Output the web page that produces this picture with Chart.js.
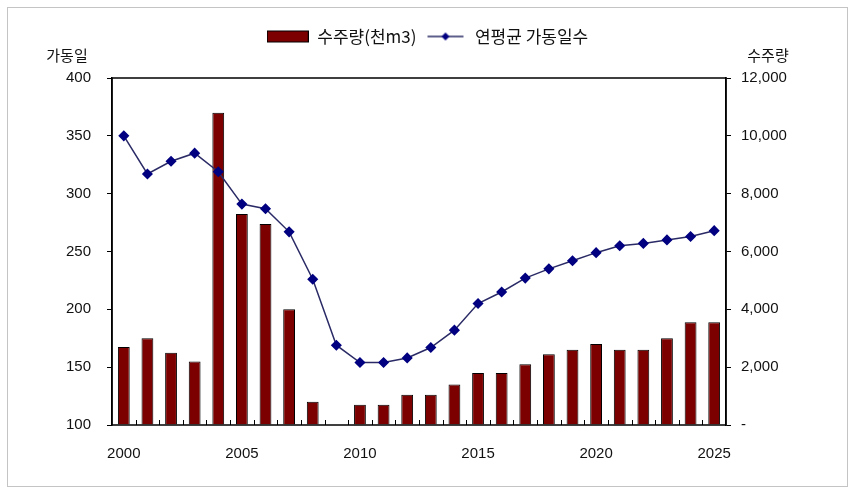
<!DOCTYPE html>
<html>
<head>
<meta charset="utf-8">
<script src="https://cdn.jsdelivr.net/npm/chart.js@4.4.1/dist/chart.umd.min.js"></script>
<style>
  html, body { margin: 0; padding: 0; background: #fff; }
  #wrap { width: 855px; height: 497px; position: relative; }
</style>
</head>
<body>
<div id="wrap"><canvas id="combo" width="855" height="497"></canvas></div>
<script>
const years = ['2000','2001','2002','2003','2004','2005','2006','2007','2008','2009','2010','2011','2012',
  '2013','2014','2015','2016','2017','2018','2019','2020','2021','2022','2023','2024','2025'];
// 수주량 (천m3), right axis
const orders = [2700, 3000, 2500, 2200, 10800, 7300, 6950, 4000, 800, 0, 700, 700, 1050,
  1050, 1400, 1800, 1800, 2100, 2450, 2600, 2800, 2600, 2600, 3000, 3550, 3550];
// 연평균 가동일수, left axis
const days = [350, 317, 328, 335, 319, 291, 287, 267, 226, 169, 154, 154, 158,
  167, 182, 205, 215, 227, 235, 242, 249, 255, 257, 260, 263, 268];
const leftTicks = [100, 150, 200, 250, 300, 350, 400];
const rightTicks = [0, 2000, 4000, 6000, 8000, 10000, 12000];

const FONT = "Arial, 'Liberation Sans', 'Noto Sans CJK KR', sans-serif";
const LEG_FONT = "'Noto Sans CJK KR', Arial, sans-serif";
const BAR = '#7d0000';
const NAVY = '#000080';

function legendIcon(kind) {
  const c = document.createElement('canvas');
  c.width = 42; c.height = 16;
  const g = c.getContext('2d');
  if (kind === 'bar') {
    g.fillStyle = BAR;
    g.fillRect(0, 2, 42, 12);
    g.strokeStyle = '#000';
    g.strokeRect(0.5, 2.5, 41, 11);
  } else {
    g.strokeStyle = '#2a2a66';
    g.lineWidth = 1.5;
    g.beginPath(); g.moveTo(3, 8); g.lineTo(39, 8); g.stroke();
    g.fillStyle = NAVY;
    g.beginPath(); g.moveTo(21, 4); g.lineTo(25, 8); g.lineTo(21, 12); g.lineTo(17, 8); g.closePath(); g.fill();
  }
  return c;
}

const frame = {
  id: 'frame',
  beforeInit(chart) {
    const fit = chart.legend.fit;
    chart.legend.fit = function () { fit.bind(chart.legend)(); this.height = 58; };
  },
  beforeDraw(chart) {
    const ctx = chart.ctx;
    ctx.save();
    ctx.strokeStyle = '#c4c4c4';
    ctx.lineWidth = 1;
    ctx.strokeRect(7.5, 7.5, 840, 479);
    ctx.restore();
  },
  afterDraw(chart) {
    const ctx = chart.ctx, a = chart.chartArea;
    ctx.save();
    ctx.strokeStyle = '#000';
    ctx.lineWidth = 1.5;
    ctx.strokeRect(a.left, a.top, a.right - a.left, a.bottom - a.top);
    // inward ticks between categories
    const step = (a.right - a.left) / years.length;
    ctx.lineWidth = 1;
    for (let i = 1; i < years.length; i++) {
      const x = Math.round(a.left + i * step) + 0.5;
      ctx.beginPath(); ctx.moveTo(x, a.bottom); ctx.lineTo(x, a.bottom - 5); ctx.stroke();
    }
    ctx.fillStyle = '#111';
    ctx.font = '15px ' + FONT;
    ctx.textAlign = 'center';
    ctx.textBaseline = 'middle';
    ctx.fillText('가동일', 67, 57);
    ctx.fillText('수주량', 768, 57);
    ctx.restore();
  }
};

new Chart(document.getElementById('combo').getContext('2d'), {
  data: {
    labels: years,
    datasets: [
      {
        type: 'line',
        label: '연평균 가동일수',
        data: days,
        yAxisID: 'y',
        borderColor: '#2a2a66',
        borderWidth: 1.5,
        pointStyle: 'rectRot',
        pointRadius: 4.5,
        pointBackgroundColor: NAVY,
        pointBorderColor: NAVY,
        tension: 0,
        order: 1
      },
      {
        type: 'bar',
        label: '수주량(천m3)',
        data: orders,
        yAxisID: 'y1',
        backgroundColor: BAR,
        borderColor: '#000',
        borderWidth: 1,
        barPercentage: 0.5,
        categoryPercentage: 1,
        order: 2
      }
    ]
  },
  options: {
    responsive: false,
    animation: false,
    layout: { padding: { top: 20, left: 0, right: 0, bottom: 0 } },
    plugins: {
      tooltip: { enabled: false },
      legend: {
        display: true,
        position: 'top',
        labels: {
          color: '#111',
          font: { family: LEG_FONT, size: 17 },
          padding: 8,
          usePointStyle: true,
          pointStyleWidth: 42,
          generateLabels(chart) {
            return [
              { text: '수주량(천m3)', pointStyle: legendIcon('bar'), datasetIndex: 1, fontColor: '#111', lineWidth: 0 },
              { text: '연평균 가동일수', pointStyle: legendIcon('line'), datasetIndex: 0, fontColor: '#111', lineWidth: 0 }
            ];
          }
        }
      }
    },
    scales: {
      x: {
        offset: true,
        grid: { display: false, drawTicks: false, tickLength: 0 },
        border: { display: false },
        ticks: {
          autoSkip: false,
          maxRotation: 0,
          padding: 20,
          color: '#111',
          font: { family: FONT, size: 15 },
          callback(v, i) { return Number(years[i]) % 5 === 0 ? years[i] : ''; }
        },
        afterFit(s) { s.height = 72; }
      },
      y: {
        position: 'left',
        min: 100,
        max: 400,
        afterBuildTicks(s) { s.ticks = leftTicks.map(v => ({ value: v })); },
        grid: { drawOnChartArea: false, tickLength: 5, color: '#000' },
        border: { display: true, color: '#000', width: 1.5 },
        ticks: {
          padding: 16,
          color: '#111',
          font: { family: FONT, size: 15 }
        },
        afterFit(s) { s.width = 112; }
      },
      y1: {
        position: 'right',
        min: 0,
        max: 12000,
        afterBuildTicks(s) { s.ticks = rightTicks.map(v => ({ value: v })); },
        grid: { drawOnChartArea: false, tickLength: 5, color: '#000' },
        border: { display: true, color: '#000', width: 1.5 },
        ticks: {
          padding: 10,
          color: '#111',
          font: { family: FONT, size: 15 },
          callback(v) { return v === 0 ? '-' : v.toLocaleString('en-US'); }
        },
        afterFit(s) { s.width = 129; }
      }
    }
  },
  plugins: [frame]
});
</script>
</body>
</html>
